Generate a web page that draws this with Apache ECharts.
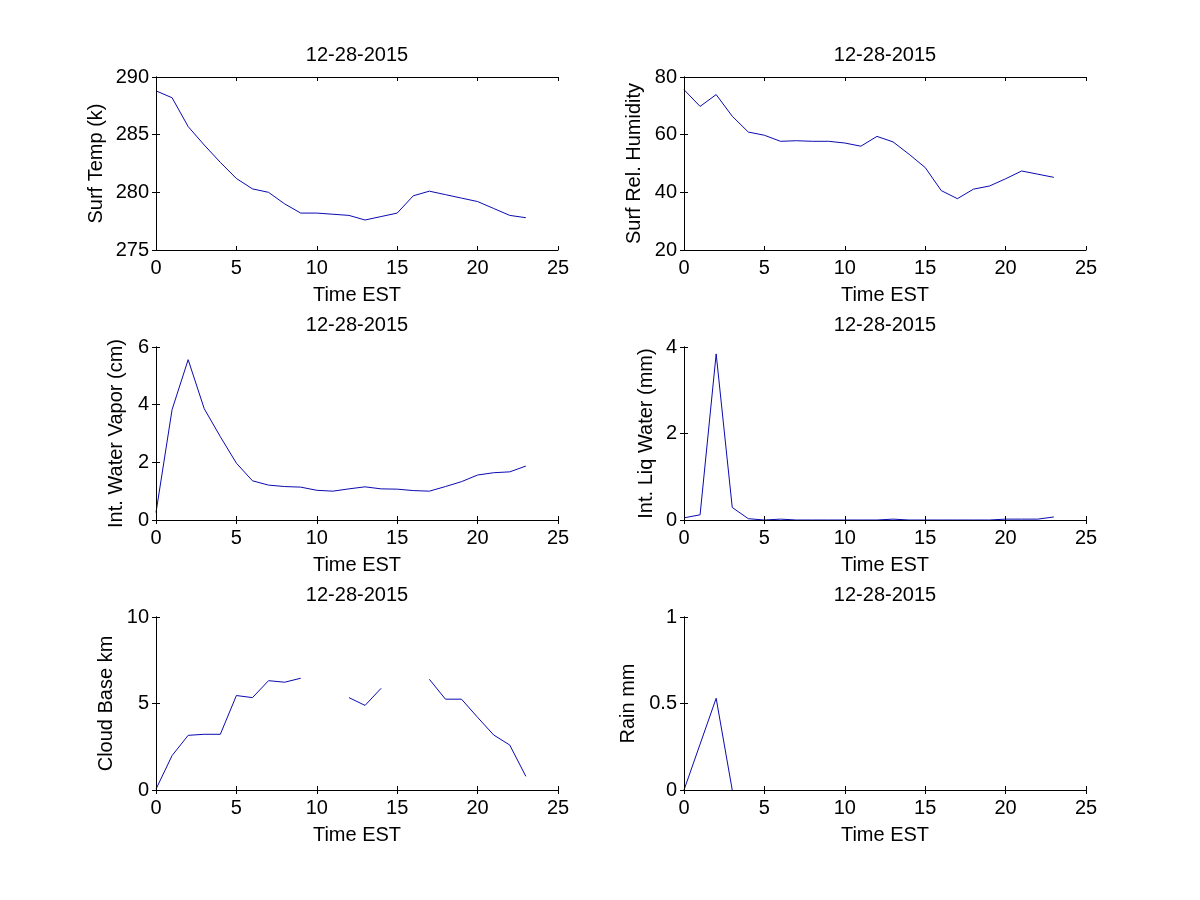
<!DOCTYPE html>
<html><head><meta charset="utf-8">
<script src="https://cdn.jsdelivr.net/npm/echarts@6/dist/echarts.min.js"></script>
<style>html,body{margin:0;padding:0;background:#fff}#c{width:1200px;height:900px}</style>
</head><body><div id="c"></div>
<script>
const hours = [0,1,2,3,4,5,6,7,8,9,10,11,12,13,14,15,16,17,18,19,20,21,22,23];
const xTicks = [0,5,10,15,20,25];
const dateTitle = '12-28-2015';
const xLabel = 'Time EST';

const surfTemp = [288.8,288.2,285.7,284.1,282.6,281.2,280.3,280.0,279.0,278.2,278.2,278.1,278.0,277.6,277.9,278.2,279.7,280.1,279.8,279.5,279.2,278.6,278.0,277.8];
const surfRH = [75.6,69.8,73.9,66.4,60.9,59.8,57.7,57.9,57.7,57.7,57.1,56.0,59.4,57.5,53.2,48.6,40.6,37.8,41.1,42.2,44.7,47.4,46.3,45.2];
const waterVapor = [0.26,3.83,5.56,3.86,2.89,1.97,1.36,1.21,1.16,1.14,1.03,1.0,1.08,1.15,1.08,1.07,1.02,1.0,1.16,1.33,1.56,1.64,1.67,1.87];
const liqWater = [0.05,0.12,3.84,0.29,0.03,0.0,0.02,0.0,0.0,0.0,0.0,0.0,0.0,0.02,0.0,0.0,0.0,0.0,0.0,0.0,0.02,0.02,0.02,0.07];
const cloudBase = [0.05,1.99,3.16,3.22,3.22,5.46,5.34,6.32,6.23,6.46,null,null,5.34,4.89,5.88,null,null,6.40,5.25,5.25,4.20,3.18,2.60,0.79];
const rain = [0,0.265,0.53,0,null,null,null,null,null,null,null,null,null,null,null,null,null,null,null,null,null,null,null,null];

const panels = [
  {ylabel:'Surf Temp (k)', values:surfTemp, min:275, max:290, interval:5},
  {ylabel:'Surf Rel. Humidity', values:surfRH, min:20, max:80, interval:20},
  {ylabel:'Int. Water Vapor (cm)', values:waterVapor, min:0, max:6, interval:2},
  {ylabel:'Int. Liq Water (mm)', values:liqWater, min:0, max:4, interval:2},
  {ylabel:'Cloud Base km', values:cloudBase, min:0, max:10, interval:5},
  {ylabel:'Rain mm', values:rain, min:0, max:1, interval:0.5}
];
const nameGaps = [50, 40, 30, 28, 40, 46];
const lefts = [156, 684];
const tops = [77, 347, 617];
const W = 402, H = 173;
const FONT = "'Liberation Sans', Arial, Helvetica, sans-serif";
const LINE = '#0a0ab0';

const grids = [], xAxes = [], yAxes = [], series = [];
panels.forEach((p, i) => {
  const col = i % 2, row = Math.floor(i / 2);
  grids.push({left: lefts[col], top: tops[row], width: W, height: H, containLabel: false});
  const axisLine = {show: true, lineStyle: {color: '#000', width: 1}};
  const tick = {show: true, inside: true, length: 4, lineStyle: {color: '#000', width: 1}};
  xAxes.push({type: 'value', gridIndex: i, position: 'bottom', min: 0, max: 25, interval: 5, z: 10,
    axisLine, axisTick: tick, splitLine: {show: false},
    axisLabel: {color: '#000', fontSize: 20, fontFamily: FONT, margin: 8},
    name: xLabel, nameLocation: 'middle', nameGap: 35,
    nameTextStyle: {color: '#000', fontSize: 20, fontFamily: FONT}});
  xAxes.push({type: 'value', gridIndex: i, position: 'top', min: 0, max: 25, interval: 5, z: 10,
    axisLine, axisTick: tick, splitLine: {show: false}, axisLabel: {show: false},
    name: dateTitle, nameLocation: 'middle', nameGap: 12,
    nameTextStyle: {color: '#000', fontSize: 20, fontFamily: FONT}});
  yAxes.push({type: 'value', gridIndex: i, position: 'left', min: p.min, max: p.max, interval: p.interval, z: 10,
    axisLine, axisTick: tick, splitLine: {show: false},
    axisLabel: {color: '#000', fontSize: 20, fontFamily: FONT, margin: 7},
    name: p.ylabel, nameLocation: 'middle', nameGap: nameGaps[i],
    nameTextStyle: {color: '#000', fontSize: 20, fontFamily: FONT}});
  yAxes.push({type: 'value', gridIndex: i, position: 'right', min: p.min, max: p.max, interval: p.interval, z: 10,
    axisLine, axisTick: tick, splitLine: {show: false}, axisLabel: {show: false}});
  series.push({type: 'line', xAxisIndex: 2 * i, yAxisIndex: 2 * i, showSymbol: false, symbol: 'none',
    connectNulls: false, animation: false, z: 2,
    lineStyle: {color: LINE, width: 1},
    data: hours.map((h, k) => [h, p.values[k]])});
});

const chart = echarts.init(document.getElementById('c'), null, {renderer: 'canvas'});
chart.setOption({backgroundColor: '#fff', animation: false, grid: grids, xAxis: xAxes, yAxis: yAxes, series});
</script></body></html>
